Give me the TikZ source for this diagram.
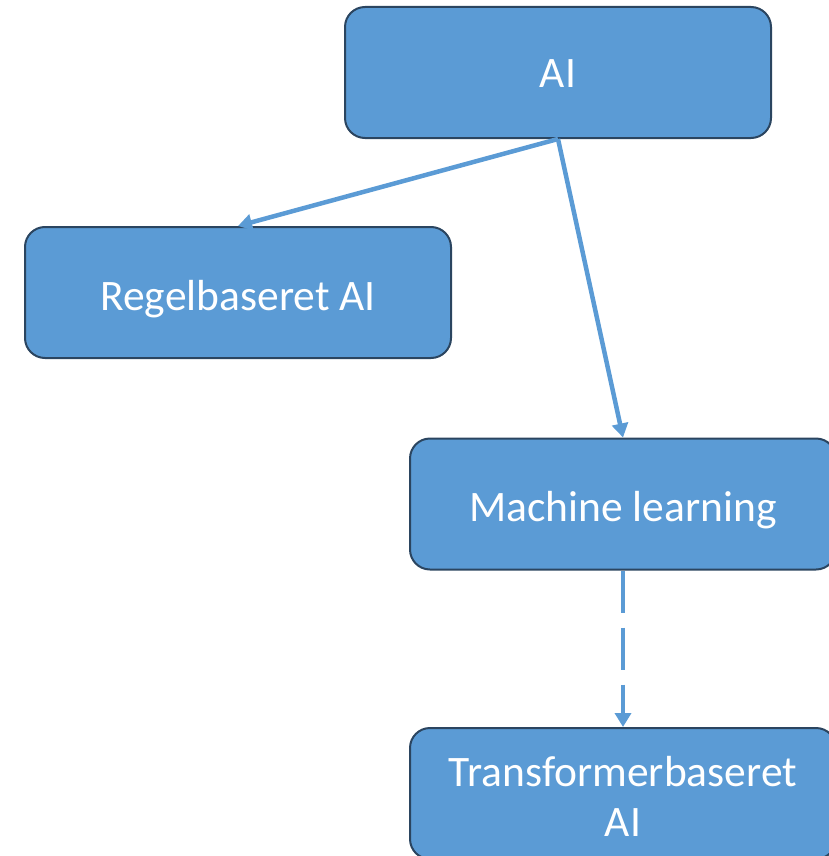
\documentclass[tikz,border=0pt]{standalone}
\usepackage{fontspec}
\setmainfont{Carlito}
\usetikzlibrary{arrows.meta}
\definecolor{boxfill}{HTML}{5B9BD5}
\definecolor{boxline}{HTML}{2B4560}
\definecolor{linkcol}{HTML}{5B9BD5}
\tikzset{
  box/.style={draw=boxline, line width=2pt, fill=boxfill, rounded corners=20pt,
    minimum width=426pt, minimum height=131pt, inner sep=0pt, text=white,
    font=\fontsize{43.5}{50}\selectfont, align=center},
  lbl/.style={text=white, font=\fontsize{43.5}{50}\selectfont, align=center},
  link/.style={draw=linkcol, line width=4.5pt,
    -{Triangle[width=16pt,length=14pt]}},
  dashlink/.style={link, dash pattern=on 42pt off 15pt},
}
\begin{document}
\begin{tikzpicture}[x=1pt,y=-1pt]
  \useasboundingbox (0,0) rectangle (829,856);
  \node[box] (ai) at (558,72.5) {};
  \node[box] (regel) at (238,292.5) {};
  \node[box] (ml) at (623,504) {};
  \node[box] (trans) at (623,793.5) {};
  \node[lbl, anchor=base] (ailbl) at (558,88) {AI};
  \node[lbl, anchor=base] (regellbl) at (238,310) {Regelbaseret AI};
  \node[lbl, anchor=base] (mllbl) at (623,521) {Machine learning};
  \node[lbl, anchor=base] (translbl1) at (623,786) {Transformerbaseret};
  \node[lbl, anchor=base] (translbl2) at (623,836) {AI};
  \draw[link] (ai.south) -- (regel.north);
  \draw[link] (ai.south) -- (ml.north);
  \draw[dashlink] (ml.south) -- (trans.north);
\end{tikzpicture}
\end{document}
